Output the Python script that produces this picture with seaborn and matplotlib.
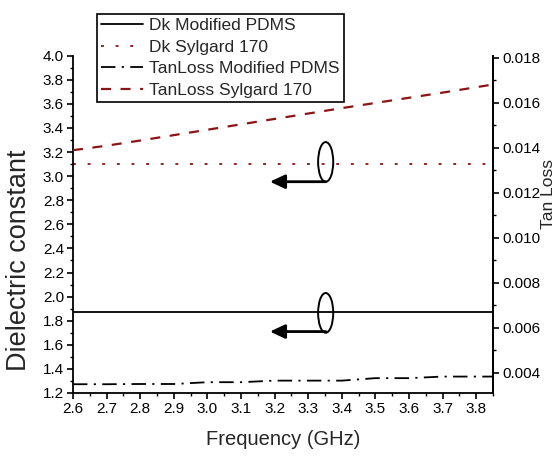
import numpy as np
import pandas as pd
import matplotlib
matplotlib.use("Agg")
import matplotlib.pyplot as plt
from matplotlib.patches import Ellipse
from matplotlib.ticker import MultipleLocator, FormatStrFormatter
import seaborn as sns

# Frequency sweep (GHz)
freq = [2.6, 2.7, 2.8, 2.9, 3.0, 3.1, 3.2, 3.3, 3.4, 3.5, 3.6, 3.7, 3.8, 3.85]

# Dielectric constant
dk_modified = [1.875, 1.875, 1.875, 1.875, 1.875, 1.875, 1.875, 1.875, 1.875, 1.875, 1.875, 1.875, 1.875, 1.875]
dk_sylgard = [3.10, 3.10, 3.10, 3.10, 3.10, 3.10, 3.10, 3.10, 3.10, 3.10, 3.10, 3.10, 3.10, 3.10]

# Loss tangent
tan_modified = [0.00350, 0.00350, 0.00351, 0.00351, 0.00359, 0.00359, 0.00366,
                0.00366, 0.00366, 0.00377, 0.00377, 0.00384, 0.00384, 0.00384]
tan_sylgard = [0.01390, 0.01410, 0.01433, 0.01457, 0.01481, 0.01505, 0.01529,
               0.01553, 0.01577, 0.01600, 0.01623, 0.01646, 0.01670, 0.01682]

series_labels = ["Dk Modified PDMS", "Dk Sylgard 170",
                 "TanLoss Modified PDMS", "TanLoss Sylgard 170"]

sns.set_style("ticks")
plt.rcParams["font.family"] = ["Liberation Sans", "DejaVu Sans"]

DARK_RED = "#8B1414"

fig = plt.figure(figsize=(5.6, 4.57), dpi=100)
ax = fig.add_axes([73 / 560, 1 - 393 / 457, 420 / 560, (393 - 55.7) / 457])
ax2 = ax.twinx()

sns.lineplot(x=freq, y=dk_modified, ax=ax, color="black", lw=1.3,
             label=series_labels[0], legend=False)
sns.lineplot(x=freq, y=dk_sylgard, ax=ax, color=DARK_RED, lw=1.3,
             linestyle=(0, (1.6, 6.5)), label=series_labels[1], legend=False)
sns.lineplot(x=freq, y=tan_modified, ax=ax2, color="black", lw=1.3,
             linestyle=(0, (8, 3.5, 1.2, 3.5)), label=series_labels[2], legend=False)
sns.lineplot(x=freq, y=tan_sylgard, ax=ax2, color=DARK_RED, lw=1.6,
             linestyle=(0, (4.5, 4.3)), label=series_labels[3], legend=False)

ax.set_xlim(2.6, 3.85)
ax.set_ylim(1.2, 4.0)
ax2.set_ylim(0.00311, 0.0181)

ax.xaxis.set_major_locator(MultipleLocator(0.1))
ax.xaxis.set_minor_locator(MultipleLocator(0.05))
ax.xaxis.set_major_formatter(FormatStrFormatter("%.1f"))
ax.yaxis.set_major_locator(MultipleLocator(0.2))
ax.yaxis.set_minor_locator(MultipleLocator(0.1))
ax.yaxis.set_major_formatter(FormatStrFormatter("%.1f"))
ax2.yaxis.set_major_locator(MultipleLocator(0.002))
ax2.yaxis.set_minor_locator(MultipleLocator(0.001))
ax2.yaxis.set_major_formatter(FormatStrFormatter("%.3f"))

for a in (ax, ax2):
    a.spines["top"].set_visible(False)
    for s in a.spines.values():
        s.set_linewidth(1.3)
        s.set_color("black")
    a.tick_params(which="major", direction="out", length=4.5, width=1.2,
                  colors="black", labelsize=11, pad=2)
    a.tick_params(which="minor", direction="out", length=2.5, width=1.0,
                  colors="black")
ax2.spines["left"].set_visible(False)
ax2.spines["bottom"].set_visible(False)

ax.set_xlabel("Frequency (GHz)", fontsize=14.5, labelpad=10)
ax.set_ylabel("Dielectric constant", fontsize=19.5)
ax.yaxis.set_label_coords(-0.098, 0.394)
ax2.set_ylabel("Tan Loss", fontsize=12.5)
ax2.yaxis.set_label_coords(1.114, 0.59)

# Ellipse markers with arrows pointing to the left axis
for cy, ay in [(3.118, 2.954), (1.865, 1.710)]:
    ax.add_patch(Ellipse((3.352, cy), width=0.045, height=0.33,
                         fill=False, edgecolor="black", lw=1.4, zorder=5))
    ax.annotate("", xy=(3.186, ay), xytext=(3.352, ay),
                arrowprops=dict(arrowstyle="-|>,head_length=0.9,head_width=0.42",
                                color="black", lw=2.0, shrinkA=0, shrinkB=0),
                zorder=5)

handles = ax.get_lines()[:2] + ax2.get_lines()[:2]
leg = fig.legend(handles, series_labels, loc="upper left",
                 bbox_to_anchor=(97 / 560, 1 - 14 / 457),
                 fontsize=12.5, frameon=True, fancybox=False,
                 edgecolor="black", framealpha=1, borderpad=0.25,
                 handlelength=2.4, handletextpad=0.35, labelspacing=0.36,
                 borderaxespad=0)
leg.get_frame().set_linewidth(1.2)

fig.savefig("out.png", dpi=100)
